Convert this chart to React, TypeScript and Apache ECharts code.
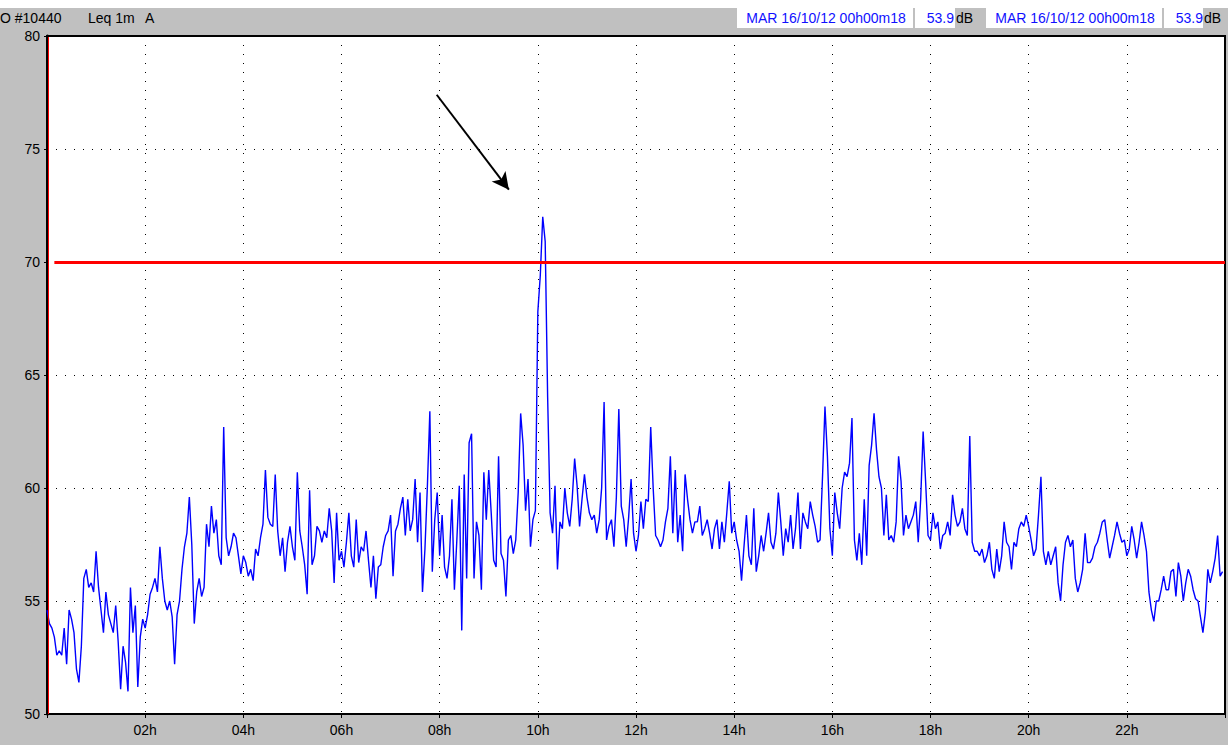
import React, { useEffect, useRef } from "react";
import * as echarts from "echarts";

const LEQ_00_04 = [
  54.6, 54.0, 53.8, 53.4, 52.6, 52.8, 52.6, 53.8, 52.2, 54.6, 54.2, 53.6, 52.0, 51.4, 53.0, 56.0, 56.4, 55.6, 55.8, 55.4,
  57.2, 55.6, 54.6, 53.6, 55.4, 54.4, 54.0, 53.6, 54.8, 53.2, 51.1, 53.0, 52.3, 51.0, 55.6, 53.6, 54.8, 51.2, 53.4, 54.2,
  53.8, 54.4, 55.3, 55.6, 56.0, 55.4, 57.4, 56.0, 55.0, 54.6, 55.0, 54.3, 52.2, 54.4, 55.0, 56.4, 57.4, 58.0, 59.6, 57.5,
  54.0, 55.4, 56.0, 55.2, 55.6, 58.4, 57.4, 59.2, 58.0, 58.6, 57.0, 56.6, 62.7, 57.8, 57.0, 57.4, 58.0, 57.8, 57.0, 56.2,
];
const LEQ_04_08 = [
  57.0, 56.7, 56.1, 56.4, 55.9, 57.3, 57.0, 57.8, 58.4, 60.8, 58.7, 58.4, 58.3, 60.6, 58.1, 57.0, 57.8, 56.3, 57.6, 58.3,
  57.4, 56.8, 60.7, 58.1, 57.4, 56.6, 55.3, 59.9, 56.6, 57.0, 58.3, 58.1, 57.6, 58.1, 57.8, 59.1, 58.1, 55.8, 58.9, 56.8,
  57.2, 56.5, 57.6, 58.9, 57.0, 56.5, 58.6, 56.7, 57.4, 57.2, 58.1, 56.8, 55.6, 57.0, 55.1, 56.5, 56.6, 57.4, 57.9, 58.1,
  58.8, 56.1, 58.1, 58.4, 59.1, 59.6, 57.9, 59.5, 58.1, 58.6, 60.4, 57.6, 59.8, 55.4, 57.3, 60.1, 63.4, 56.3, 58.6, 59.8,
];
const LEQ_08_12 = [
  57.0, 58.8, 56.5, 56.0, 57.0, 59.5, 55.5, 57.7, 60.1, 53.7, 60.6, 56.0, 62.0, 62.4, 56.0, 58.5, 57.9, 55.5, 60.7, 58.6,
  60.8, 58.9, 56.8, 56.5, 61.4, 57.1, 56.8, 55.2, 57.7, 57.9, 57.1, 57.7, 59.8, 63.3, 61.9, 59.0, 60.4, 57.4, 58.6, 59.0,
  67.8, 69.4, 72.0, 70.9, 64.0, 58.9, 58.0, 60.1, 56.4, 58.5, 58.2, 60.0, 58.9, 58.3, 59.5, 61.3, 60.1, 58.3, 59.5, 60.6,
  59.6, 58.9, 58.6, 58.8, 58.0, 58.6, 60.0, 63.8, 57.7, 58.3, 58.6, 57.4, 59.6, 63.5, 59.2, 58.6, 57.4, 58.7, 60.4, 58.0,
];
const LEQ_12_16 = [
  57.2, 57.9, 59.4, 58.2, 59.5, 59.4, 62.7, 60.0, 57.9, 57.7, 57.4, 57.7, 58.5, 59.1, 61.4, 58.0, 60.8, 57.6, 58.8, 57.2,
  60.6, 59.5, 58.6, 58.0, 58.5, 58.5, 59.2, 57.9, 58.2, 58.6, 58.0, 57.3, 58.2, 58.6, 57.3, 58.5, 57.6, 58.9, 60.3, 58.0,
  58.5, 57.7, 57.2, 55.9, 57.4, 58.8, 57.0, 56.6, 59.1, 56.3, 57.0, 57.9, 57.2, 58.0, 58.9, 57.6, 57.3, 58.0, 59.8, 58.5,
  57.0, 58.2, 57.6, 58.8, 57.3, 58.2, 59.8, 57.3, 58.9, 58.5, 58.2, 59.4, 58.8, 58.3, 57.6, 57.7, 60.5, 63.6, 61.4, 58.2,
];
const LEQ_16_20 = [
  57.0, 59.8, 58.9, 58.2, 60.0, 60.7, 60.5, 61.1, 63.1, 57.7, 56.8, 58.0, 56.6, 59.5, 57.0, 61.0, 61.9, 63.3, 61.7, 60.5,
  60.0, 57.9, 59.7, 57.7, 57.9, 57.6, 58.5, 61.4, 60.3, 57.9, 58.8, 58.2, 58.5, 58.8, 59.4, 57.6, 59.5, 62.5, 60.3, 57.9,
  57.7, 58.9, 58.2, 58.5, 57.3, 57.9, 58.0, 58.5, 57.9, 59.7, 58.8, 58.3, 58.5, 59.1, 58.2, 57.9, 62.3, 57.6, 57.2, 57.2,
  57.0, 57.3, 56.7, 57.0, 57.6, 56.4, 56.0, 57.3, 56.3, 57.0, 58.5, 57.6, 57.4, 56.4, 57.6, 57.4, 58.2, 58.5, 58.3, 58.8,
];
const LEQ_20_24 = [
  58.3, 57.7, 57.0, 57.3, 58.8, 60.5, 57.2, 56.6, 57.2, 56.6, 57.0, 57.4, 55.8, 55.0, 56.6, 57.6, 57.9, 57.4, 57.7, 56.0,
  55.4, 55.8, 56.4, 58.0, 56.7, 56.7, 56.9, 57.4, 57.6, 58.0, 58.5, 58.6, 57.7, 56.9, 57.4, 57.9, 58.5, 58.0, 57.6, 57.7,
  57.0, 57.3, 58.3, 57.7, 56.9, 57.6, 58.5, 57.9, 57.2, 55.4, 54.6, 54.1, 55.0, 55.0, 55.5, 56.1, 55.5, 55.5, 56.3, 56.4,
  55.2, 56.7, 56.1, 55.0, 55.8, 56.4, 56.1, 55.5, 55.1, 55.0, 54.3, 53.6, 54.5, 56.4, 55.8, 56.3, 56.9, 57.9, 56.1, 56.3,
];

const SAMPLE_MINUTES = 3;
const LIMIT_DB = 70;
const LIMIT_START_H = 0.15;
const ARROW_FROM = [7.94, 77.4];
const ARROW_TO = [9.41, 73.2];
const Y_MIN = 50;
const Y_MAX = 80;
const Y_STEP = 5;
const X_MIN = 0;
const X_MAX = 24;
const X_STEP = 2;

const HEADER_LEFT = ["O #10440", "Leq 1m", "A"];
const CURSOR_TIME = "MAR 16/10/12 00h00m18";
const CURSOR_VALUE = "53.9";
const UNIT = "dB";

const FONT = "'Liberation Sans', Arial, sans-serif";
const GRAY = "#c0c0c0";
const FS = 14;

export default function App() {
  const ref = useRef<HTMLDivElement>(null);

  useEffect(() => {
    if (!ref.current) return;
    const chart = echarts.init(ref.current, undefined, { renderer: "svg" });
    const values = [...LEQ_00_04, ...LEQ_04_08, ...LEQ_08_12, ...LEQ_12_16, ...LEQ_16_20, ...LEQ_20_24];
    const data = values.map((v, i) => [(i * SAMPLE_MINUTES) / 60, v]);

    const dotted = { color: "#000", width: 1, type: [1, 8] as any };
    const hdr = (x: number, text: string, fill: string, align: string = "left") => ({
      type: "text",
      x,
      y: 18,
      style: { text, font: `${FS}px ${FONT}`, fill, align, verticalAlign: "middle" },
    });

    chart.setOption({
      animation: false,
      backgroundColor: GRAY,
      textStyle: { fontFamily: FONT },
      grid: {
        left: 47,
        right: 2,
        top: 36,
        bottom: 31,
        show: true,
        backgroundColor: "#ffffff",
        borderColor: "#000",
        borderWidth: 2,
      },
      xAxis: {
        type: "value",
        min: X_MIN,
        max: X_MAX,
        interval: X_STEP,
        axisLine: { show: false },
        axisTick: { show: true, length: 4, lineStyle: { color: "#000" } },
        axisLabel: {
          color: "#000",
          fontSize: FS,
          fontFamily: FONT,
          margin: 9,
          formatter: (v: number) => (v <= X_MIN || v >= X_MAX ? "" : (v < 10 ? "0" : "") + v + "h"),
        },
        splitLine: { show: true, lineStyle: dotted },
      },
      yAxis: {
        type: "value",
        min: Y_MIN,
        max: Y_MAX,
        interval: Y_STEP,
        offset: 1,
        axisLine: { show: true, lineStyle: { color: "#000", width: 3 } },
        axisTick: { show: true, length: 3, lineStyle: { color: "#000" } },
        axisLabel: { color: "#000", fontSize: FS, fontFamily: FONT, margin: 6 },
        splitLine: { show: true, lineStyle: dotted },
      },
      series: [
        {
          type: "line",
          data,
          symbol: "none",
          lineStyle: { color: "#0000ff", width: 1.4 },
          z: 3,
          markLine: {
            silent: true,
            symbol: "none",
            label: { show: false },
            lineStyle: { color: "#ff0000", width: 3, type: "solid" },
            data: [[{ coord: [LIMIT_START_H, LIMIT_DB] }, { coord: [X_MAX, LIMIT_DB] }]],
          },
        },
        {
          type: "line",
          data: [],
          symbol: "none",
          z: 4,
          markLine: {
            silent: true,
            symbol: ["none", "arrow"],
            symbolSize: [13, 17],
            label: { show: false },
            lineStyle: { color: "#000", width: 2, type: "solid" },
            itemStyle: { color: "#000" },
            data: [[{ coord: ARROW_FROM }, { coord: ARROW_TO }]],
          },
        },
      ],
      graphic: [
        { type: "rect", left: 0, top: 0, shape: { width: 1228, height: 8 }, style: { fill: "#fff" } },
        { type: "line", shape: { x1: 48.5, y1: 37, x2: 48.5, y2: 714 }, style: { stroke: "#ff0000", lineWidth: 1 }, z: 10 },
        hdr(0, HEADER_LEFT[0], "#000"),
        hdr(88, HEADER_LEFT[1], "#000"),
        hdr(145, HEADER_LEFT[2], "#000"),
        { type: "rect", shape: { x: 737, y: 8, width: 176, height: 20 }, style: { fill: "#fff" } },
        { type: "rect", shape: { x: 915, y: 8, width: 40, height: 20 }, style: { fill: "#fff" } },
        { type: "rect", shape: { x: 986, y: 8, width: 176, height: 20 }, style: { fill: "#fff" } },
        { type: "rect", shape: { x: 1164, y: 8, width: 39, height: 20 }, style: { fill: "#fff" } },
        hdr(826, CURSOR_TIME, "#1010ff", "center"),
        hdr(954, CURSOR_VALUE, "#1010ff", "right"),
        hdr(956, UNIT, "#000"),
        hdr(1075, CURSOR_TIME, "#1010ff", "center"),
        hdr(1203, CURSOR_VALUE, "#1010ff", "right"),
        hdr(1204, UNIT, "#000"),
      ],
    });
    return () => chart.dispose();
  }, []);

  return <div ref={ref} style={{ position: "fixed", left: 0, top: 0, width: 1228, height: 745 }} />;
}
